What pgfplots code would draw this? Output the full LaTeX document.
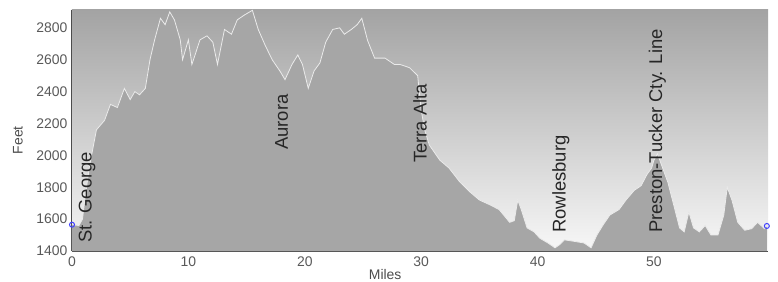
\documentclass[border=0pt]{standalone}
\usepackage{pgfplots}
\usepackage{pgfplotstable}
\pgfplotsset{compat=1.18}
\usepackage{fontspec}
\setmainfont{Liberation Sans}
\pgfplotstableread{
mi ft
0 1565
0.6 1560
0.9 1600
1.1 1720
1.5 1930
2.1 2160
2.8 2220
3.3 2320
3.9 2300
4.5 2420
5.0 2350
5.4 2400
5.8 2380
6.3 2420
6.7 2600
7.1 2725
7.6 2860
8.0 2820
8.4 2900
8.8 2850
9.3 2725
9.5 2600
10.0 2725
10.3 2570
11.0 2725
11.6 2750
12.1 2710
12.5 2570
13.1 2790
13.7 2760
14.2 2850
14.8 2880
15.5 2910
16.0 2790
16.6 2690
17.2 2600
17.9 2525
18.3 2475
18.9 2570
19.4 2630
19.8 2570
20.3 2420
20.8 2530
21.3 2580
21.8 2710
22.4 2790
23.0 2800
23.4 2760
24.0 2790
24.5 2820
24.9 2860
25.4 2720
26.0 2610
26.9 2610
27.7 2570
28.2 2570
29.0 2550
29.7 2500
30.0 2285
30.3 2160
30.7 2065
31.6 1970
32.4 1920
33.3 1835
34.2 1770
35.0 1720
35.9 1690
36.7 1660
37.6 1580
38.0 1590
38.3 1720
38.6 1660
39.1 1545
39.7 1520
40.2 1480
40.9 1450
41.5 1420
41.9 1440
42.3 1470
43.2 1460
44.0 1450
44.6 1420
45.1 1500
45.6 1560
46.2 1625
47.0 1660
47.6 1720
48.3 1780
48.9 1810
49.4 1880
49.8 1920
50.0 1970
50.3 2010
50.6 1950
51.2 1830
51.8 1660
52.2 1545
52.6 1520
53.0 1645
53.4 1545
53.9 1520
54.4 1560
54.9 1500
55.5 1500
56.0 1625
56.3 1800
56.7 1720
57.2 1580
57.8 1530
58.4 1540
58.9 1580
59.5 1540
59.7 1557
}\profile
\begin{document}
\begin{tikzpicture}
\useasboundingbox (-72bp,-31bp) rectangle (706bp,251bp);
\begin{axis}[
  at={(0,0)}, anchor=south west,
  scale only axis, width=696bp, height=241bp,
  xmin=0, xmax=59.8, ymin=1400, ymax=2912,
  clip=false,
  axis x line*=bottom, axis y line*=left,
  axis line style={-, draw=black!70, line width=1bp},
  axis background/.style={top color=black!36, bottom color=black!3},
  xtick={0,10,20,30,40,50},
  ytick={1400,1600,1800,2000,2200,2400,2600,2800},
  major tick length=0pt,
  /pgf/number format/assume math mode=true,
  /pgf/number format/set thousands separator={},
  tick label style={font=\fontsize{14}{14}\selectfont, text=black!65},
  xticklabel style={yshift=-2bp},
  yticklabel style={xshift=-1bp},
  xlabel={Miles}, ylabel={Feet},
  label style={font=\fontsize{14}{14}\selectfont, text=black!70},
  xlabel style={at={(axis description cs:0.45,-0.098)}, anchor=center},
  ylabel style={at={(axis description cs:-0.0776,0.46)}, anchor=center, rotate=0},
]
\addplot[fill=black!35, draw=none] table[x=mi,y=ft]{\profile} \closedcycle;
\addplot[white!92!black, line width=0.8bp] table[x=mi,y=ft]{\profile};
\addplot[only marks, mark=o, mark size=2.5bp, draw=blue!75!white, mark options={fill=white, line width=1bp}] coordinates {(0,1565) (59.7,1557)};
\begin{scope}[every node/.style={rotate=90, anchor=west, inner sep=0pt, font=\fontsize{18.5}{20}\selectfont, text=black!85}]
\node at (axis cs:1.3,1450) {St. George};
\node at (axis cs:18.0,2034) {Aurora};
\node at (axis cs:29.9,1952) {Terra Alta};
\node at (axis cs:42.0,1513) {Rowlesburg};
\node at (axis cs:50.3,1513) {Preston-Tucker Cty. Line};
\end{scope}
\end{axis}
\end{tikzpicture}
\end{document}
